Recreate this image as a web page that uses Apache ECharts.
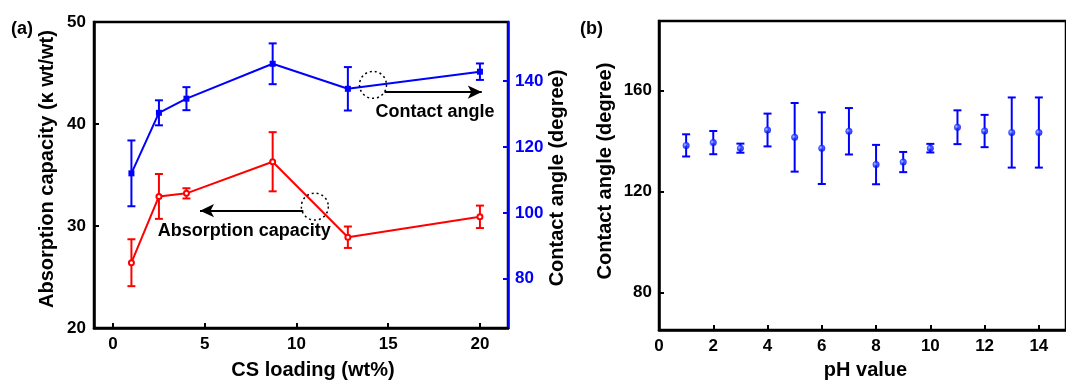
<!DOCTYPE html>
<html>
<head>
<meta charset="utf-8">
<script src="https://cdn.jsdelivr.net/npm/echarts@6/dist/echarts.min.js"></script>
<style>
html,body{margin:0;padding:0;background:#fff;}
#chart{width:1066px;height:385px;}
</style>
</head>
<body>
<div id="chart"></div>
<script>
// ---- Panel (a) data ----
var csLoading = [1, 2.5, 4, 8.7, 12.8, 20];
var contactAngleA = [112.0, 130.4, 134.7, 145.3, 137.7, 142.9];
var contactAngleAErr = [10.0, 3.8, 3.5, 6.2, 6.6, 2.5];
var absorption = [26.4, 32.9, 33.2, 36.3, 28.9, 30.9];
var absorptionErr = [2.3, 2.2, 0.5, 2.9, 1.05, 1.1];

// ---- Panel (b) data ----
var phValues = [1, 2, 3, 4, 5, 6, 7, 8, 9, 10, 11, 12, 13, 14];
var contactAngleB = [138.2, 139.3, 137.1, 144.3, 141.4, 137.1, 143.8, 130.6, 131.6, 137.1, 145.4, 143.9, 143.3, 143.3];
var contactAngleBErr = [4.4, 4.6, 1.8, 6.5, 13.6, 14.2, 9.2, 7.8, 4.0, 1.7, 6.7, 6.4, 13.9, 13.9];

// ---- Tick labels ----
var ticksCS = [0, 5, 10, 15, 20];
var ticksAbs = [20, 30, 40, 50];
var ticksCAa = [80, 100, 120, 140];
var ticksPH = [0, 2, 4, 6, 8, 10, 12, 14];
var ticksCAb = [80, 120, 160];

// ---- Annotations (data units) ----
var caArrow = [[14.8, 136.7], [20.1, 136.7]];
var caCircle = [14.17, 138.9];
var caText = [17.55, 130.7];
var absArrow = [[10.37, 31.5], [4.74, 31.5]];
var absCircle = [11.0, 31.9];
var absText = [7.15, 29.5];

var FONT = '"Liberation Sans", Arial, sans-serif';
var BLUE = '#0000ff';
var RED = '#ff0000';

function pairs(xs, ys) { return xs.map(function (x, i) { return [x, ys[i]]; }); }
function errs(xs, ys, es) { return xs.map(function (x, i) { return [x, ys[i] - es[i], ys[i] + es[i]]; }); }

function errRender(color) {
  return function (params, api) {
    var x = api.value(0);
    var lo = api.coord([x, api.value(1)]);
    var hi = api.coord([x, api.value(2)]);
    var w = 4;
    var st = { stroke: color, lineWidth: 2 };
    return {
      type: 'group',
      children: [
        { type: 'line', shape: { x1: lo[0], y1: lo[1], x2: hi[0], y2: hi[1] }, style: st },
        { type: 'line', shape: { x1: lo[0] - w, y1: lo[1], x2: lo[0] + w, y2: lo[1] }, style: st },
        { type: 'line', shape: { x1: hi[0] - w, y1: hi[1], x2: hi[0] + w, y2: hi[1] }, style: st }
      ]
    };
  };
}

var tickLabel = { fontFamily: FONT, fontWeight: 'bold', fontSize: 17, color: '#000' };
var nameStyle = { fontFamily: FONT, fontWeight: 'bold', fontSize: 20, color: '#000' };

var chart = echarts.init(document.getElementById('chart'), null, { renderer: 'canvas' });
chart.setOption({
  animation: false,
  backgroundColor: '#fff',
  grid: [
    { left: 94, top: 22, width: 414, height: 313, show: true, borderColor: '#000', borderWidth: 2.5, backgroundColor: 'transparent' },
    { left: 659, top: 21, width: 419, height: 312, show: true, borderColor: '#000', borderWidth: 2.5, backgroundColor: 'transparent' }
  ],
  xAxis: [
    {
      type: 'value', gridIndex: 0, min: -1.04, max: 21.53,
      name: 'CS loading (wt%)', nameLocation: 'middle', nameGap: 32,
      nameTextStyle: Object.assign({ padding: [0, 0, 0, 24] }, nameStyle),
      axisLine: { show: true, onZero: false, lineStyle: { color: '#000', width: 2.5 } },
      axisTick: { show: true, inside: true, length: 5, lineStyle: { color: '#000', width: 2 }, customValues: ticksCS },
      axisLabel: Object.assign({ margin: 8, customValues: ticksCS }, tickLabel),
      splitLine: { show: false }
    },
    {
      type: 'value', gridIndex: 1, min: 0, max: 15,
      name: 'pH value', nameLocation: 'middle', nameGap: 25,
      nameTextStyle: Object.assign({ padding: [0, 0, 0, 6] }, nameStyle),
      axisLine: { show: true, onZero: false, lineStyle: { color: '#000', width: 2.5 } },
      axisTick: { show: true, inside: true, length: 5, lineStyle: { color: '#000', width: 2 }, customValues: ticksPH },
      axisLabel: Object.assign({ margin: 8, customValues: ticksPH }, tickLabel),
      splitLine: { show: false }
    }
  ],
  yAxis: [
    {
      type: 'value', gridIndex: 0, min: 20, max: 50, position: 'left',
      name: 'Absorption capacity (κ wt/wt)', nameLocation: 'middle', nameGap: 37, nameRotate: 90,
      nameTextStyle: Object.assign({ padding: [0, 0, 0, 12] }, nameStyle),
      axisLine: { show: true, onZero: false, lineStyle: { color: '#000', width: 2.5 } },
      axisTick: { show: true, inside: true, length: 5, lineStyle: { color: '#000', width: 2 }, customValues: ticksAbs },
      axisLabel: Object.assign({ margin: 8, customValues: ticksAbs }, tickLabel),
      splitLine: { show: false }
    },
    {
      type: 'value', gridIndex: 0, min: 65, max: 158, position: 'right',
      name: 'Contact angle (degree)', nameLocation: 'middle', nameGap: 39, nameRotate: 90,
      nameTextStyle: Object.assign({ padding: [0, 6, 0, 0] }, nameStyle),
      axisLine: { show: true, onZero: false, lineStyle: { color: BLUE, width: 2.5 } },
      axisTick: { show: true, inside: true, length: 5, lineStyle: { color: BLUE, width: 2 }, customValues: ticksCAa },
      axisLabel: Object.assign({}, tickLabel, { margin: 7, color: BLUE, customValues: ticksCAa }),
      splitLine: { show: false }
    },
    {
      type: 'value', gridIndex: 1, min: 65, max: 187.5, position: 'left',
      name: 'Contact angle (degree)', nameLocation: 'middle', nameGap: 44, nameRotate: 90,
      nameTextStyle: Object.assign({ padding: [0, 0, 0, 9] }, nameStyle),
      axisLine: { show: true, onZero: false, lineStyle: { color: '#000', width: 2.5 } },
      axisTick: { show: true, inside: true, length: 5, lineStyle: { color: '#000', width: 2 }, customValues: ticksCAb },
      axisLabel: Object.assign({ margin: 7, customValues: ticksCAb }, tickLabel),
      splitLine: { show: false }
    }
  ],
  graphic: [
    { type: 'text', left: 11, top: 20, style: { text: '(a)', font: 'bold 18px ' + FONT, fill: '#000' } },
    { type: 'text', left: 580, top: 20, style: { text: '(b)', font: 'bold 18px ' + FONT, fill: '#000' } }
  ],
  series: [
    {
      type: 'custom', xAxisIndex: 0, yAxisIndex: 1, silent: true, z: 3,
      renderItem: errRender(BLUE), encode: { x: 0, y: [1, 2] },
      data: errs(csLoading, contactAngleA, contactAngleAErr)
    },
    {
      type: 'line', xAxisIndex: 0, yAxisIndex: 1, silent: true, z: 4,
      data: pairs(csLoading, contactAngleA),
      symbol: 'rect', symbolSize: 6, showAllSymbol: true,
      lineStyle: { color: BLUE, width: 2 }, itemStyle: { color: BLUE },
      markLine: {
        silent: true, symbol: ['none', 'arrow'], symbolSize: [10, 14],
        lineStyle: { color: '#000', width: 2, type: 'solid' }, label: { show: false },
        data: [[{ coord: caArrow[0] }, { coord: caArrow[1] }]]
      },
      markPoint: {
        silent: true,
        data: [
          { coord: caCircle, symbol: 'circle', symbolSize: 27,
            itemStyle: { color: 'rgba(0,0,0,0)', borderColor: '#000', borderWidth: 1.5, borderType: [2, 3] },
            label: { show: false } },
          { coord: caText, symbol: 'circle', symbolSize: 1, itemStyle: { color: 'rgba(0,0,0,0)' },
            label: { show: true, position: 'inside', formatter: 'Contact angle', fontFamily: FONT, fontWeight: 'bold', fontSize: 18, color: '#000' } }
        ]
      }
    },
    {
      type: 'custom', xAxisIndex: 0, yAxisIndex: 0, silent: true, z: 3,
      renderItem: errRender(RED), encode: { x: 0, y: [1, 2] },
      data: errs(csLoading, absorption, absorptionErr)
    },
    {
      type: 'line', xAxisIndex: 0, yAxisIndex: 0, silent: true, z: 4,
      data: pairs(csLoading, absorption),
      symbol: 'emptyCircle', symbolSize: 5, showAllSymbol: true,
      lineStyle: { color: RED, width: 2 }, itemStyle: { color: RED, borderWidth: 1.5 },
      markLine: {
        silent: true, symbol: ['none', 'arrow'], symbolSize: [10, 14],
        lineStyle: { color: '#000', width: 2, type: 'solid' }, label: { show: false },
        data: [[{ coord: absArrow[0] }, { coord: absArrow[1] }]]
      },
      markPoint: {
        silent: true,
        data: [
          { coord: absCircle, symbol: 'circle', symbolSize: 27,
            itemStyle: { color: 'rgba(0,0,0,0)', borderColor: '#000', borderWidth: 1.5, borderType: [2, 3] },
            label: { show: false } },
          { coord: absText, symbol: 'circle', symbolSize: 1, itemStyle: { color: 'rgba(0,0,0,0)' },
            label: { show: true, position: 'inside', formatter: 'Absorption capacity', fontFamily: FONT, fontWeight: 'bold', fontSize: 18, color: '#000' } }
        ]
      }
    },
    {
      type: 'custom', xAxisIndex: 1, yAxisIndex: 2, silent: true, z: 3,
      renderItem: errRender(BLUE), encode: { x: 0, y: [1, 2] },
      data: errs(phValues, contactAngleB, contactAngleBErr)
    },
    {
      type: 'scatter', xAxisIndex: 1, yAxisIndex: 2, silent: true, z: 4,
      data: pairs(phValues, contactAngleB),
      symbol: 'circle', symbolSize: 7,
      itemStyle: {
        color: { type: 'radial', x: 0.4, y: 0.4, r: 0.6, colorStops: [{ offset: 0, color: '#c8dcff' }, { offset: 0.45, color: '#1a3cff' }, { offset: 1, color: BLUE }] }
      }
    }
  ]
});
</script>
</body>
</html>
